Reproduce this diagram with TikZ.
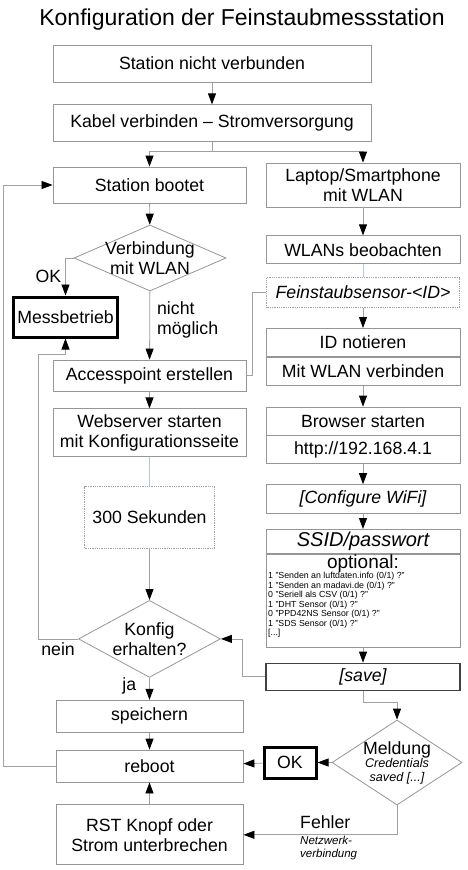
\documentclass[tikz,border=0pt]{standalone}
\usepackage{fontspec}
\setmainfont{Liberation Sans}
\usetikzlibrary{arrows.meta,positioning,shapes.geometric}
\definecolor{LineGray}{RGB}{160,160,160}
\definecolor{BoxGray}{RGB}{150,150,150}
\definecolor{HintBlue}{RGB}{180,199,220}
\newcommand{\fsz}[2]{\fontsize{#1bp}{#2bp}\selectfont}
\tikzset{
  process/.style={draw=BoxGray,line width=0.8bp,minimum width=193bp,
    minimum height=32bp,inner sep=1bp,align=center,font=\fsz{17.7}{20}},
  rbox/.style={process,minimum width=194bp,minimum height=28bp},
  waitbox/.style={process,draw=LineGray,densely dotted},
  screen/.style={font=\fsz{17.7}{20}\itshape},
  decision/.style={diamond,draw=BoxGray,line width=0.8bp,inner sep=0pt},
  result/.style={draw=black,line width=3bp,inner sep=1bp,align=center,
    font=\fsz{17.7}{20}},
  lbl/.style={font=\fsz{17.7}{20},inner sep=0pt},
  arrow/.style={-{Triangle[length=11bp,width=8bp,color=black]},draw=LineGray,
    line width=0.8bp},
  link/.style={draw=LineGray,line width=0.8bp},
  hint/.style={draw=HintBlue,line width=0.8bp}
}

\begin{document}
\begin{tikzpicture}[x=1bp,y=-1bp]
      \useasboundingbox (0,0) rectangle (468,870);
      \node[anchor=base,font=\fsz{23}{26}] (title) at (242,25) {Konfiguration der Feinstaubmessstation};

      \node[process,minimum width=318bp,minimum height=37bp] (nichtverb) at (212,63.5) {Station nicht verbunden};
      \node[process,minimum width=318bp,minimum height=37bp,below=22bp of nichtverb] (kabel) {Kabel verbinden -- Stromversorgung};

      % Station
      \node[process,minimum height=36bp] (bootet) at (149.5,185) {Station bootet};
      \node[decision,minimum width=152bp,minimum height=66bp,
        label={[lbl,align=center]center:Verbindung\\mit WLAN}] (verb) at (150,258) {};
      \node[result,minimum width=103bp,minimum height=40bp] (messb) at (65.5,317) {Messbetrieb};
      \coordinate[below=16bp of messb.south] (neinknick);
      \node[process,minimum height=31bp] (access) at (149.5,375.5) {Accesspoint erstellen};
      \node[process,minimum height=48bp,below=17bp of access] (websrv) {Webserver starten\\mit Konfigurationsseite};
      \node[waitbox,minimum width=130bp,minimum height=62bp,below=29bp of websrv] (sek) {300 Sekunden};
      \node[decision,minimum width=142bp,minimum height=77bp,below=51bp of sek,
        label={[lbl,align=center]center:Konfig\\erhalten?}] (konfig) {};
      \node[process,minimum width=187bp,below=22bp of konfig] (speich) {speichern};
      \node[process,minimum width=187bp,below=17bp of speich] (reboot) {reboot};
      \node[process,minimum width=187bp,minimum height=60bp,below=22bp of reboot] (rst) {RST Knopf oder\\Strom unterbrechen};

      % Laptop
      \node[rbox,minimum height=44bp] (laptop) at (363,185) {Laptop/Smartphone\\mit WLAN};
      \node[rbox,below=28bp of laptop] (wlans) {WLANs beobachten};
      \node[rbox,waitbox,screen,minimum height=30bp,below=13bp of wlans] (sensor) {Feinstaubsensor-<ID>};
      \node[rbox,below=20bp of sensor] (idnot) {ID notieren};
      \node[rbox,below=0bp of idnot] (mitwlan) {Mit WLAN verbinden};
      \node[rbox,below=21bp of mitwlan] (browser) {Browser starten};
      \node[rbox,below=0bp of browser] (http) {http://192.168.4.1};
      \node[rbox,screen,minimum height=29bp,below=20bp of http] (wifi) {[Configure WiFi]};
      \node[rbox,font=\fsz{20}{22}\itshape,minimum height=24bp,below=15bp of wifi] (ssid) {SSID/passwort};
      \node[rbox,minimum height=93bp,below=0bp of ssid] (optbox) {};
      \node[lbl,font=\fsz{19}{21},below=1bp of optbox.north] (optlbl) {optional:};
      \node[anchor=north west,inner sep=0pt,align=left,font=\fsz{8.8}{9.5}] (optlist) at (268,572)
        {1 "Senden an luftdaten.info (0/1) ?"\\1 "Senden an madavi.de (0/1) ?"\\0 "Seriell als CSV (0/1) ?"\\
         1 "DHT Sensor (0/1) ?"\\0 "PPD42NS Sensor (0/1) ?"\\1 "SDS Sensor (0/1) ?"\\{}[...]};
      \node[rbox,screen,draw=black!75,line width=1.5bp,minimum height=27bp,below=15bp of optbox] (save) {[save]};
      \node[decision,minimum width=130bp,minimum height=85bp,
        label={[inner sep=0pt,align=center,font=\fsz{12.6}{13.5}\itshape]center:{\fsz{17.7}{20}\upshape Meldung}\\Credentials\\saved [...]}] (meldung) at (397,762.5) {};
      \node[result,minimum width=52bp,minimum height=31bp] (ok) at (290,762.5) {OK};
      \node[lbl,anchor=base west] (fehler) at (300,828) {Fehler};
      \node[anchor=north west,inner sep=0pt,align=left,font=\fsz{11.5}{13}\itshape] (fehlerinfo) at (300,836) {Netzwerk-\\verbindung};

      \draw[arrow] (nichtverb) -- (kabel);
      \draw[link] (kabel.south) -- ++(0,9) coordinate (split);
      \draw[arrow] (split) -| (bootet.north);
      \draw[arrow] (split) -| (laptop.north);
      \draw[arrow] (bootet) -- (verb);
      \draw[arrow] (verb.west) -| (messb.north) node[lbl,pos=0.75,left=4bp] {OK};
      \draw[arrow] (verb) -- (access) node[lbl,pos=0.42,right=7bp,align=left] {nicht\\möglich};
      \draw[link] (access.east) -- ++(6,0) |- (sensor.west);
      \draw[arrow] (access) -- (websrv);
      \draw[hint] (websrv) -- (sek);
      \draw[arrow] (sek) -- (konfig);
      \draw[arrow] (konfig.west) -- ++(-40,0) node[lbl,midway,below=3bp] {nein} |- (neinknick) -- (messb.south);
      \draw[arrow] (konfig) -- (speich) node[lbl,pos=0.35,left=13bp] {ja};
      \draw[arrow] (speich) -- (reboot);
      \draw[arrow] (rst) -- (reboot);
      \draw[arrow] (reboot.west) -- ++(-52,0) |- (bootet.west);

      \draw[arrow] (laptop) -- (wlans);
      \draw[hint] (wlans) -- (sensor);
      \draw[arrow] (sensor) -- (idnot);
      \draw[arrow] (mitwlan) -- (browser);
      \draw[arrow] (http) -- (wifi);
      \draw[arrow] (wifi) -- (ssid);
      \draw[arrow] (optbox) -- (save);
      \draw[arrow] (save.west) -- ++(-23,0) |- (konfig.east);
      \draw[arrow] (save.south) -- ++(0,11) -| (meldung.north);
      \draw[arrow] (meldung) -- (ok);
      \draw[arrow] (ok) -- (reboot);
      \draw[arrow] (meldung.south) |- (rst.east);
\end{tikzpicture}
\end{document}
